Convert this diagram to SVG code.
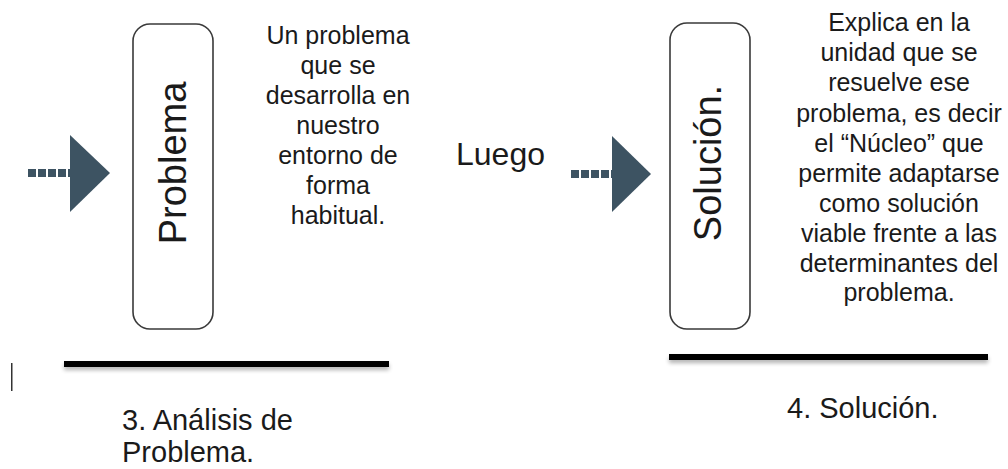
<svg xmlns="http://www.w3.org/2000/svg" width="1008" height="469" viewBox="0 0 1008 469">
<defs>
<style>
.box{fill:#fff;stroke:#3a3a3a;stroke-width:1.6}
.t{font-family:"Liberation Sans",Arial,sans-serif;fill:#1a1a1a}
.para{font-size:25px;text-anchor:middle}
.big{font-size:38px;text-anchor:middle}
.lbl{font-size:29px}
.arr{fill:#3d5362}
.rule{fill:#000}
.shadow{fill:#000;opacity:0.3;filter:url(#blur)}
</style>
<filter id="blur" filterUnits="userSpaceOnUse" x="0" y="0" width="1008" height="469">
<feGaussianBlur stdDeviation="2"/>
</filter>
<g id="dasharrow">
<rect x="0" y="0" width="8" height="8"/>
<rect x="10" y="0" width="8" height="8"/>
<rect x="20" y="0" width="8" height="8"/>
<rect x="30" y="0" width="8" height="8"/>
<rect x="40" y="0" width="4" height="8"/>
</g>
</defs>
<rect width="1008" height="469" fill="#fff"/>

<g id="connectors">
<g id="arrow1" class="arr">
<use href="#dasharrow" x="28" y="169"/>
<polygon points="70,135 110,173 70,212"/>
</g>
<g id="arrow2" class="arr">
<use href="#dasharrow" x="571" y="170"/>
<polygon points="612,136 651,174 612,212"/>
</g>
</g>

<g id="problema">
<rect class="box" x="133" y="24" width="80" height="305" rx="17"/>
<text class="t big" transform="translate(186,163) rotate(-90)">Problema</text>
</g>

<g id="desc-problema">
<text class="t para" x="338" y="44">Un problema</text>
<text class="t para" x="338" y="74">que se</text>
<text class="t para" x="338" y="104">desarrolla en</text>
<text class="t para" x="338" y="134">nuestro</text>
<text class="t para" x="338" y="164">entorno de</text>
<text class="t para" x="338" y="194">forma</text>
<text class="t para" x="338" y="224">habitual.</text>
</g>

<g id="luego">
<text class="t" x="456" y="165" font-size="32">Luego</text>
</g>

<g id="solucion">
<rect class="box" x="670" y="23" width="80" height="306" rx="17"/>
<text class="t big" transform="translate(721,163) rotate(-90)">Solución.</text>
</g>

<g id="desc-solucion">
<text class="t para" x="899" y="31">Explica en la</text>
<text class="t para" x="899" y="61">unidad que se</text>
<text class="t para" x="899" y="91">resuelve ese</text>
<text class="t para" x="899" y="122">problema, es decir</text>
<text class="t para" x="899" y="152">el “Núcleo” que</text>
<text class="t para" x="899" y="182">permite adaptarse</text>
<text class="t para" x="899" y="212">como solución</text>
<text class="t para" x="899" y="242">viable frente a las</text>
<text class="t para" x="899" y="272">determinantes del</text>
<text class="t para" x="899" y="301">problema.</text>
</g>

<g id="section3">
<rect class="shadow" x="64" y="364" width="325" height="6"/>
<rect class="rule" x="64" y="361" width="325" height="6"/>
<rect x="11" y="363" width="1.5" height="28" fill="#333"/>
<text class="t lbl" x="122" y="430">3. Análisis de</text>
<text class="t lbl" x="122" y="462">Problema.</text>
</g>

<g id="section4">
<rect class="shadow" x="669" y="357" width="319" height="6"/>
<rect class="rule" x="669" y="354" width="319" height="6"/>
<text class="t lbl" x="787" y="418">4. Solución.</text>
</g>
</svg>
